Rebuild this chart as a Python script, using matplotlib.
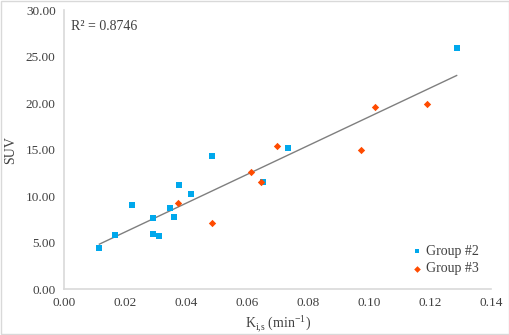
import numpy as np
import matplotlib
matplotlib.use("Agg")
from matplotlib import pyplot as plt

plt.rcParams['font.family'] = ['Liberation Serif', 'DejaVu Serif']
plt.rcParams['mathtext.fontset'] = 'custom'
plt.rcParams['mathtext.rm'] = 'Liberation Serif'

# Group #2 (blue squares)
g2_x = [0.0116, 0.0166, 0.0222, 0.0291, 0.0291, 0.0313, 0.0348, 0.0360,
        0.0377, 0.0417, 0.0485, 0.0651, 0.0733, 0.1287]
g2_y = [4.38, 5.80, 9.03, 7.60, 5.91, 5.73, 8.67, 7.78,
        11.22, 10.25, 14.30, 11.54, 15.16, 25.90]

# Group #3 (orange diamonds)
g3_x = [0.0375, 0.0485, 0.0614, 0.0646, 0.0697, 0.0972, 0.1019, 0.1189]
g3_y = [9.21, 7.10, 12.58, 11.50, 15.34, 14.95, 19.60, 19.90]

r2_text = "R² = 0.8746"

fig = plt.figure(figsize=(5.1, 3.35), dpi=100)
ax = fig.add_axes([0.1255, 0.137, 0.8375, 0.833])

# linear trendline over both groups
all_x = np.array(g2_x + g3_x)
all_y = np.array(g2_y + g3_y)
k, b = np.polyfit(all_x, all_y, 1)
xs = np.array([all_x.min(), all_x.max()])
ax.plot(xs, k * xs + b, color='#7f7f7f', lw=1.0, zorder=1)

ax.scatter(g2_x, g2_y, marker='s', s=14, color='#00A8EC', label='Group #2', zorder=3, linewidths=0)
ax.scatter(g3_x, g3_y, marker='D', s=14, color='#FF4B00', label='Group #3', zorder=3, linewidths=0)

ax.set_xlim(0, 0.14)
ax.set_ylim(0, 30)
ax.set_xticks(np.arange(0, 0.141, 0.02))
ax.set_yticks(np.arange(0, 30.1, 5))
ax.xaxis.set_major_formatter(plt.FormatStrFormatter('%.2f'))
ax.yaxis.set_major_formatter(plt.FormatStrFormatter('%.2f'))
ax.tick_params(length=0, labelsize=9.5, colors='#404040', pad=6)
for s in ['top', 'right']:
    ax.spines[s].set_visible(False)
for s in ['left', 'bottom']:
    ax.spines[s].set_color('#d9d9d9')
    ax.spines[s].set_linewidth(1.2)

ax.set_ylabel('SUV', fontsize=10, color='#404040', labelpad=6)
ax.set_xlabel(r'K$_{\mathregular{i{,}s}}$ (min$^{\mathregular{-1}}$)', fontsize=10, color='#404040', labelpad=3)

ax.text(0.017, 0.965, r2_text, transform=ax.transAxes, fontsize=10, color='#404040', va='top', ha='left')

leg = ax.legend(loc='lower right', bbox_to_anchor=(1.0, 0.005), frameon=False, fontsize=10,
                handletextpad=0.0, handlelength=1.2, labelspacing=0.3, markerscale=0.9)
for t in leg.get_texts():
    t.set_color('#404040')

# light border around the whole figure
fig.patches.append(plt.Rectangle((0.002, 0.003), 0.996, 0.994, transform=fig.transFigure,
                                 fill=False, edgecolor='#d9d9d9', lw=1))

fig.savefig('out.png', dpi=100)
